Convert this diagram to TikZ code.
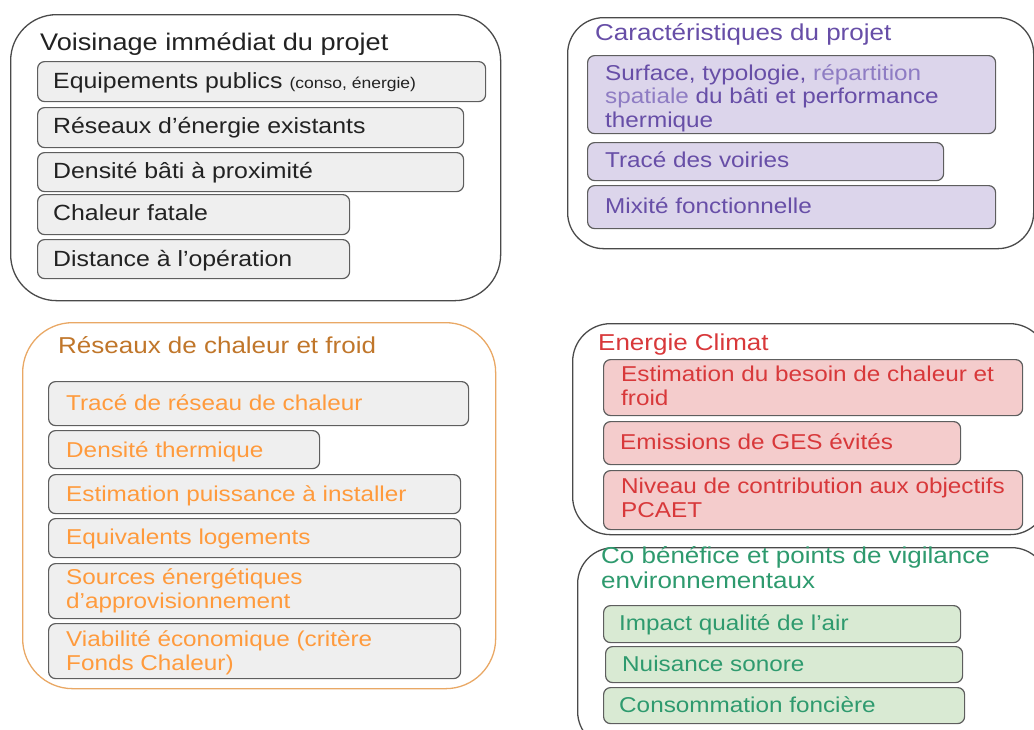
\documentclass[tikz,border=0pt]{standalone}
\usepackage{fontspec}
\setmainfont{Liberation Sans}[FakeStretch=1.13]
\definecolor{boxline}{HTML}{4A4A4A}
\definecolor{iline}{HTML}{5E5E5E}
\definecolor{gfill}{HTML}{EFEFEF}
\definecolor{pfill}{HTML}{DCD5EB}
\definecolor{rfill}{HTML}{F4CCCC}
\definecolor{vfill}{HTML}{D9EAD3}
\definecolor{ptxt}{HTML}{674EA7}
\definecolor{pltxt}{HTML}{8E7CC3}
\definecolor{otitle}{HTML}{C0762A}
\definecolor{otxt}{HTML}{FF9A3C}
\definecolor{oline}{HTML}{E9A865}
\definecolor{rtxt}{HTML}{D8383A}
\definecolor{gtxt}{HTML}{2E9A6E}
\definecolor{ktxt}{HTML}{222222}
\tikzset{
  outer/.style={draw=boxline, line width=1.3pt, rounded corners=40pt, anchor=north west, inner sep=0pt},
  ibox/.style={draw=iline, line width=1.2pt, rounded corners=7pt, anchor=north west, inner sep=0pt},
  ttl/.style={anchor=base west, inner sep=0pt, font=\fontsize{23}{25}\selectfont},
  txt/.style={anchor=base west, inner sep=0pt, align=left, font=\fontsize{21.5}{23.5}\selectfont},
}
\newcommand{\bx}[6]{\node[ibox, fill=#6, minimum width=#4pt, minimum height=#5pt] (#1) at (#2,#3) {};}
\begin{document}
\begin{tikzpicture}[x=1pt,y=-1pt]
\useasboundingbox (0,0) rectangle (1034,729);
\clip (0,0) rectangle (1034,729);
% ---- Box 1
\node[outer, rounded corners=46pt, minimum width=490pt, minimum height=286pt] (o1) at (10,14) {};
\node[ttl, text=ktxt, font=\fontsize{24}{26}\selectfont] (t1) at (40,50) {Voisinage immédiat du projet};
\bx{a1}{37}{61}{448}{40}{gfill}
\bx{a2}{37}{107}{426}{40}{gfill}
\bx{a3}{37}{152}{426}{39}{gfill}
\bx{a4}{37}{194}{312}{40}{gfill}
\bx{a5}{37}{239}{312}{39}{gfill}
\node[txt, text=ktxt, font=\fontsize{22}{24}\selectfont] (ta1) at (53,88) {Equipements publics {\fontsize{15.5}{16}\selectfont(conso, énergie)}};
\node[txt, text=ktxt, font=\fontsize{22}{24}\selectfont] (ta2) at (53,133) {Réseaux d’énergie existants};
\node[txt, text=ktxt, font=\fontsize{22}{24}\selectfont] (ta3) at (53,178) {Densité bâti à proximité};
\node[txt, text=ktxt, font=\fontsize{22}{24}\selectfont] (ta4) at (53,220) {Chaleur fatale};
\node[txt, text=ktxt, font=\fontsize{22}{24}\selectfont] (ta5) at (53,266) {Distance à l’opération};
% ---- Box 2
\node[outer, rounded corners=36pt, minimum width=466pt, minimum height=231pt] (o2) at (567,17) {};
\node[ttl, text=ptxt] (t2) at (595,40) {Caractéristiques du projet};
\bx{b1}{587}{55}{408}{78}{pfill}
\bx{b2}{587}{142}{356}{38}{pfill}
\bx{b3}{587}{185}{408}{43}{pfill}
\node[txt, text=ptxt] (tb1) at (605,127) {Surface, typologie, \textcolor{pltxt}{répartition}\\\textcolor{pltxt}{spatiale} du bâti et performance\\thermique};
\node[txt, text=ptxt] (tb2) at (605,167) {Tracé des voiries};
\node[txt, text=ptxt] (tb3) at (605,213) {Mixité fonctionnelle};
% ---- Box 3
\node[outer, draw=oline, rounded corners=50pt, minimum width=473pt, minimum height=366pt] (o3) at (22,322) {};
\node[ttl, text=otitle] (t3) at (58,353) {Réseaux de chaleur et froid};
\bx{c1}{48}{381}{420}{44}{gfill}
\bx{c2}{48}{430}{271}{38}{gfill}
\bx{c3}{48}{474}{412}{39}{gfill}
\bx{c4}{48}{518}{412}{39}{gfill}
\bx{c5}{48}{563}{412}{55}{gfill}
\bx{c6}{48}{623}{412}{55}{gfill}
\node[txt, text=otxt] (tc1) at (66,410) {Tracé de réseau de chaleur};
\node[txt, text=otxt] (tc2) at (66,457) {Densité thermique};
\node[txt, text=otxt] (tc3) at (66,501) {Estimation puissance à installer};
\node[txt, text=otxt] (tc4) at (66,544) {Equivalents logements};
\node[txt, text=otxt] (tc5) at (66,608) {Sources énergétiques\\d’approvisionnement};
\node[txt, text=otxt] (tc6) at (66,670) {Viabilité économique (critère\\Fonds Chaleur)};
% ---- Box 4
\node[outer, rounded corners=38pt, minimum width=475pt, minimum height=211pt] (o4) at (572,323) {};
\node[ttl, text=rtxt] (t4) at (598,350) {Energie Climat};
\bx{d1}{603}{359}{419}{56}{rfill}
\bx{d2}{603}{421}{357}{43}{rfill}
\bx{d3}{603}{470}{419}{59}{rfill}
\node[txt, text=rtxt] (td1) at (621,405) {Estimation du besoin de chaleur et\\froid};
\node[txt, text=rtxt] (td2) at (620,449) {Emissions de GES évités};
\node[txt, text=rtxt] (td3) at (621,517) {Niveau de contribution aux objectifs\\PCAET};
% ---- Box 5
\node[outer, rounded corners=36pt, minimum width=470pt, minimum height=200pt] (o5) at (577,547) {};
\node[ttl, text=gtxt, align=left, font=\fontsize{23}{24.5}\selectfont] (t5) at (601,588) {Co bénéfice et points de vigilance\\environnementaux};
\bx{e1}{603}{605}{357}{37}{vfill}
\bx{e2}{605}{646}{357}{36}{vfill}
\bx{e3}{603}{687}{361}{36}{vfill}
\node[txt, text=gtxt] (te1) at (619,630) {Impact qualité de l’air};
\node[txt, text=gtxt] (te2) at (622,671) {Nuisance sonore};
\node[txt, text=gtxt] (te3) at (619,712) {Consommation foncière};
\end{tikzpicture}
\end{document}
